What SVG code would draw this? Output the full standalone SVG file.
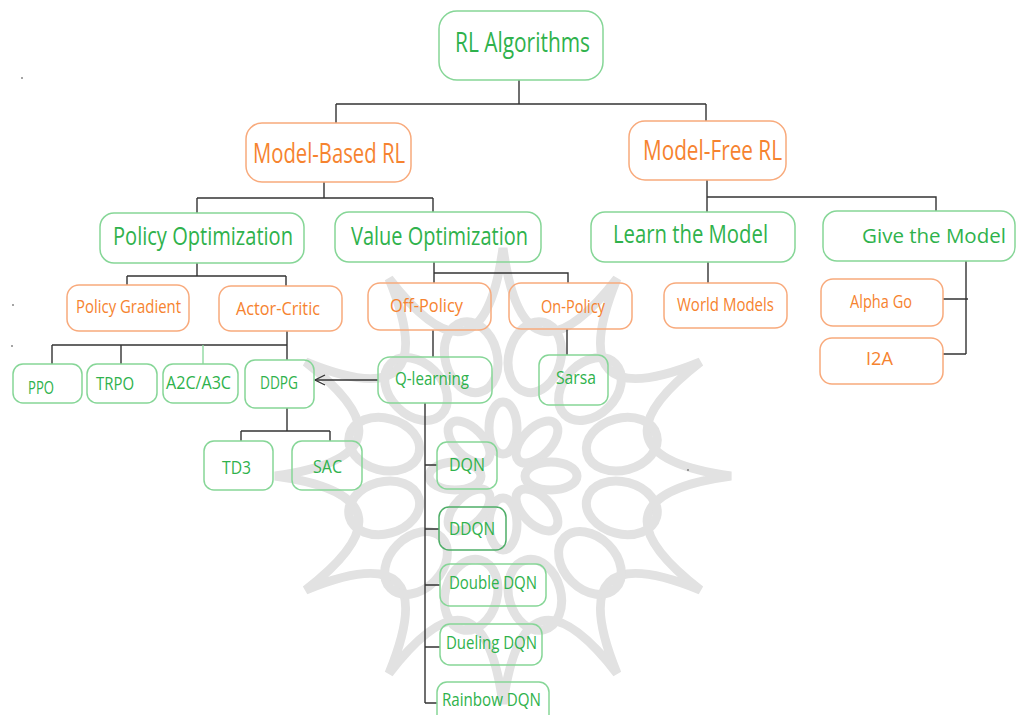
<svg xmlns="http://www.w3.org/2000/svg" xmlns:xlink="http://www.w3.org/1999/xlink" width="1018" height="715" viewBox="0 0 1018 715">
  <style>
    .node rect { fill: none; stroke-width: 1.5; }
    .g rect { stroke: #86d697; }
    .o rect { stroke: #f8aa7c; }
    .node text { font-family: "Open Sans", "Noto Sans", sans-serif; font-weight: 400; }
    .g text { fill: #2fb24c; }
    .o text { fill: #f6832f; }
    .lg { font-size: 27px; }
    .md { font-size: 25px; }
    .sm { font-size: 18px; }
    #connectors path { fill: none; stroke: #333333; stroke-width: 1.4; }
    #watermark * { fill: none; stroke: #e2e2e2; stroke-width: 9; }
  </style>
  <defs>
    <marker id="open-arrow" viewBox="0 0 12 12" refX="11" refY="6" markerWidth="12" markerHeight="12" markerUnits="userSpaceOnUse" orient="auto">
      <path d="M1,1 L11,6 L1,11" fill="none" stroke="#333333" stroke-width="1.3"/>
    </marker>
    <ellipse id="loop" cx="503" cy="353" rx="26" ry="36"/>
    <ellipse id="petal" cx="503" cy="428" rx="14" ry="26"/>
  </defs>

  <rect width="1018" height="715" fill="#ffffff"/>

  <!-- faint mandala in the background -->
  <g id="watermark">
    <path d="M503,248 Q523.7,398.7 617,278.5 Q559.6,419.4 700.4,362 Q580.3,455.3 731,476 Q580.3,496.7 700.4,590 Q559.6,532.6 617,673.4 Q523.7,553.3 503,704 Q482.3,553.3 389,673.4 Q446.4,532.6 305.6,590 Q425.7,496.7 275,476 Q425.7,455.3 305.6,362 Q446.4,419.4 389,278.5 Q482.3,398.7 503,248 Z"/>
    <use xlink:href="#loop" transform="rotate(15 503 476)"/>
    <use xlink:href="#loop" transform="rotate(45 503 476)"/>
    <use xlink:href="#loop" transform="rotate(75 503 476)"/>
    <use xlink:href="#loop" transform="rotate(105 503 476)"/>
    <use xlink:href="#loop" transform="rotate(135 503 476)"/>
    <use xlink:href="#loop" transform="rotate(165 503 476)"/>
    <use xlink:href="#loop" transform="rotate(195 503 476)"/>
    <use xlink:href="#loop" transform="rotate(225 503 476)"/>
    <use xlink:href="#loop" transform="rotate(255 503 476)"/>
    <use xlink:href="#loop" transform="rotate(285 503 476)"/>
    <use xlink:href="#loop" transform="rotate(315 503 476)"/>
    <use xlink:href="#loop" transform="rotate(345 503 476)"/>
    <use xlink:href="#petal" transform="rotate(0 503 476)"/>
    <use xlink:href="#petal" transform="rotate(45 503 476)"/>
    <use xlink:href="#petal" transform="rotate(90 503 476)"/>
    <use xlink:href="#petal" transform="rotate(135 503 476)"/>
    <use xlink:href="#petal" transform="rotate(180 503 476)"/>
    <use xlink:href="#petal" transform="rotate(225 503 476)"/>
    <use xlink:href="#petal" transform="rotate(270 503 476)"/>
    <use xlink:href="#petal" transform="rotate(315 503 476)"/>
  </g>

  <!-- stray specks -->
  <g fill="#333333">
    <circle cx="22" cy="78" r="0.8"/>
    <circle cx="13" cy="305" r="0.8"/>
    <circle cx="12" cy="346" r="0.8"/>
    <circle cx="688" cy="470" r="0.8"/>
  </g>

  <g id="connectors">
    <path d="M519,80 V104 M336,104 H706 M336,104 V123 M706,104 V121"/>
    <path d="M324,182 V198 M197,198 H433 M197,198 V213 M433,198 V212"/>
    <path d="M707,180 V212 M707,197 H936 V211"/>
    <path d="M197,263 V276 M127,276 H286 M127,276 V285 M286,276 V286"/>
    <path d="M434,262 V283 M434,273 H568 V283"/>
    <path d="M708,262 V283"/>
    <path d="M966,261 V354 M943,299 H968 M943,354 H966"/>
    <path d="M287,331 V360 M52,345 H287 M52,345 V364 M121,345 V364"/>
    <path d="M203,345 V364" style="stroke:#8fd9a0"/>
    <path d="M433,330 V357 M567,329 V355"/>
    <path d="M378,380 H315" marker-end="url(#open-arrow)"/>
    <path d="M287,408 V431 M241,431 H330 M241,431 V441 M330,431 V441"/>
    <path d="M425,403 V703 M425,465 H437 M425,529 H439 M425,585 H440 M425,647 H440 M425,703 H437"/>
  </g>

  <g id="n-rl" class="node g">
    <rect x="439" y="11" width="164" height="69" rx="18"/>
    <text class="lg" x="455" y="52" textLength="135" lengthAdjust="spacingAndGlyphs">RL Algorithms</text>
  </g>
  <g id="n-model-based" class="node o">
    <rect x="246" y="123" width="165" height="59" rx="16"/>
    <text class="lg" x="253" y="163" textLength="152" lengthAdjust="spacingAndGlyphs">Model-Based RL</text>
  </g>
  <g id="n-model-free" class="node o">
    <rect x="629" y="121" width="157" height="59" rx="16"/>
    <text class="lg" x="643" y="160" textLength="139" lengthAdjust="spacingAndGlyphs">Model-Free RL</text>
  </g>
  <g id="n-policy-opt" class="node g">
    <rect x="100" y="213" width="204" height="50" rx="14"/>
    <text class="md" x="113" y="245" textLength="180" lengthAdjust="spacingAndGlyphs">Policy Optimization</text>
  </g>
  <g id="n-value-opt" class="node g">
    <rect x="335" y="212" width="206" height="50" rx="14"/>
    <text class="md" x="351" y="245" textLength="177" lengthAdjust="spacingAndGlyphs">Value Optimization</text>
  </g>
  <g id="n-learn" class="node g">
    <rect x="591" y="212" width="204" height="50" rx="14"/>
    <text class="md" x="613" y="243" textLength="155" lengthAdjust="spacingAndGlyphs">Learn the Model</text>
  </g>
  <g id="n-give" class="node g">
    <rect x="823" y="211" width="192" height="50" rx="14"/>
    <text x="934" y="243" font-size="20.5" text-anchor="middle">Give the Model</text>
  </g>
  <g id="n-policy-gradient" class="node o">
    <rect x="67" y="285" width="122" height="46" rx="12"/>
    <text class="sm" x="76" y="313" textLength="105" lengthAdjust="spacingAndGlyphs">Policy Gradient</text>
  </g>
  <g id="n-actor-critic" class="node o">
    <rect x="219" y="286" width="123" height="45" rx="12"/>
    <text class="sm" x="236" y="315" textLength="84" lengthAdjust="spacingAndGlyphs">Actor-Critic</text>
  </g>
  <g id="n-off-policy" class="node o">
    <rect x="368" y="283" width="123" height="47" rx="12"/>
    <text class="sm" x="390" y="312" textLength="73" lengthAdjust="spacingAndGlyphs">Off-Policy</text>
  </g>
  <g id="n-on-policy" class="node o">
    <rect x="509" y="283" width="123" height="46" rx="12"/>
    <text class="sm" x="541" y="313" textLength="64" lengthAdjust="spacingAndGlyphs">On-Policy</text>
  </g>
  <g id="n-world-models" class="node o">
    <rect x="664" y="283" width="123" height="45" rx="12"/>
    <text class="sm" x="677" y="311" textLength="97" lengthAdjust="spacingAndGlyphs">World Models</text>
  </g>
  <g id="n-alpha-go" class="node o">
    <rect x="821" y="279" width="122" height="47" rx="12"/>
    <text class="sm" x="850" y="308" textLength="62" lengthAdjust="spacingAndGlyphs">Alpha Go</text>
  </g>
  <g id="n-i2a" class="node o">
    <rect x="820" y="338" width="123" height="46" rx="12"/>
    <text class="sm" x="866" y="365" textLength="27" lengthAdjust="spacingAndGlyphs">I2A</text>
  </g>
  <g id="n-ppo" class="node g">
    <rect x="13" y="364" width="69" height="39" rx="10"/>
    <text class="sm" x="28" y="394" textLength="26" lengthAdjust="spacingAndGlyphs">PPO</text>
  </g>
  <g id="n-trpo" class="node g">
    <rect x="87" y="364" width="70" height="39" rx="10"/>
    <text class="sm" x="96" y="390" textLength="38" lengthAdjust="spacingAndGlyphs">TRPO</text>
  </g>
  <g id="n-a2c" class="node g">
    <rect x="163" y="364" width="75" height="39" rx="10"/>
    <text class="sm" x="166" y="389" textLength="65" lengthAdjust="spacingAndGlyphs">A2C/A3C</text>
  </g>
  <g id="n-ddpg" class="node g">
    <rect x="245" y="360" width="69" height="48" rx="10"/>
    <text class="sm" x="260" y="389" textLength="38" lengthAdjust="spacingAndGlyphs">DDPG</text>
  </g>
  <g id="n-q-learning" class="node g">
    <rect x="378" y="357" width="114" height="46" rx="12"/>
    <text class="sm" x="395" y="385" textLength="74" lengthAdjust="spacingAndGlyphs">Q-learning</text>
  </g>
  <g id="n-sarsa" class="node g">
    <rect x="539" y="355" width="69" height="50" rx="10"/>
    <text class="sm" x="556" y="384" textLength="40" lengthAdjust="spacingAndGlyphs">Sarsa</text>
  </g>
  <g id="n-td3" class="node g">
    <rect x="204" y="441" width="69" height="49" rx="10"/>
    <text class="sm" x="222" y="474" textLength="29" lengthAdjust="spacingAndGlyphs">TD3</text>
  </g>
  <g id="n-sac" class="node g">
    <rect x="292" y="441" width="70" height="49" rx="10"/>
    <text class="sm" x="313" y="473" textLength="29" lengthAdjust="spacingAndGlyphs">SAC</text>
  </g>
  <g id="n-dqn" class="node g">
    <rect x="437" y="442" width="60" height="47" rx="10"/>
    <text class="sm" x="449" y="471" textLength="36" lengthAdjust="spacingAndGlyphs">DQN</text>
  </g>
  <g id="n-ddqn" class="node g">
    <rect x="439" y="507" width="67" height="43" rx="10" style="stroke:#4fae68"/>
    <text class="sm" x="449" y="535" textLength="46" lengthAdjust="spacingAndGlyphs">DDQN</text>
  </g>
  <g id="n-double-dqn" class="node g">
    <rect x="440" y="564" width="106" height="42" rx="10"/>
    <text class="sm" x="449" y="589" textLength="88" lengthAdjust="spacingAndGlyphs">Double DQN</text>
  </g>
  <g id="n-dueling-dqn" class="node g">
    <rect x="440" y="624" width="102" height="41" rx="10"/>
    <text class="sm" x="446" y="649" textLength="91" lengthAdjust="spacingAndGlyphs">Dueling DQN</text>
  </g>
  <g id="n-rainbow-dqn" class="node g">
    <rect x="437" y="682" width="112" height="44" rx="10"/>
    <text class="sm" x="442" y="706" textLength="99" lengthAdjust="spacingAndGlyphs">Rainbow DQN</text>
  </g>
</svg>
